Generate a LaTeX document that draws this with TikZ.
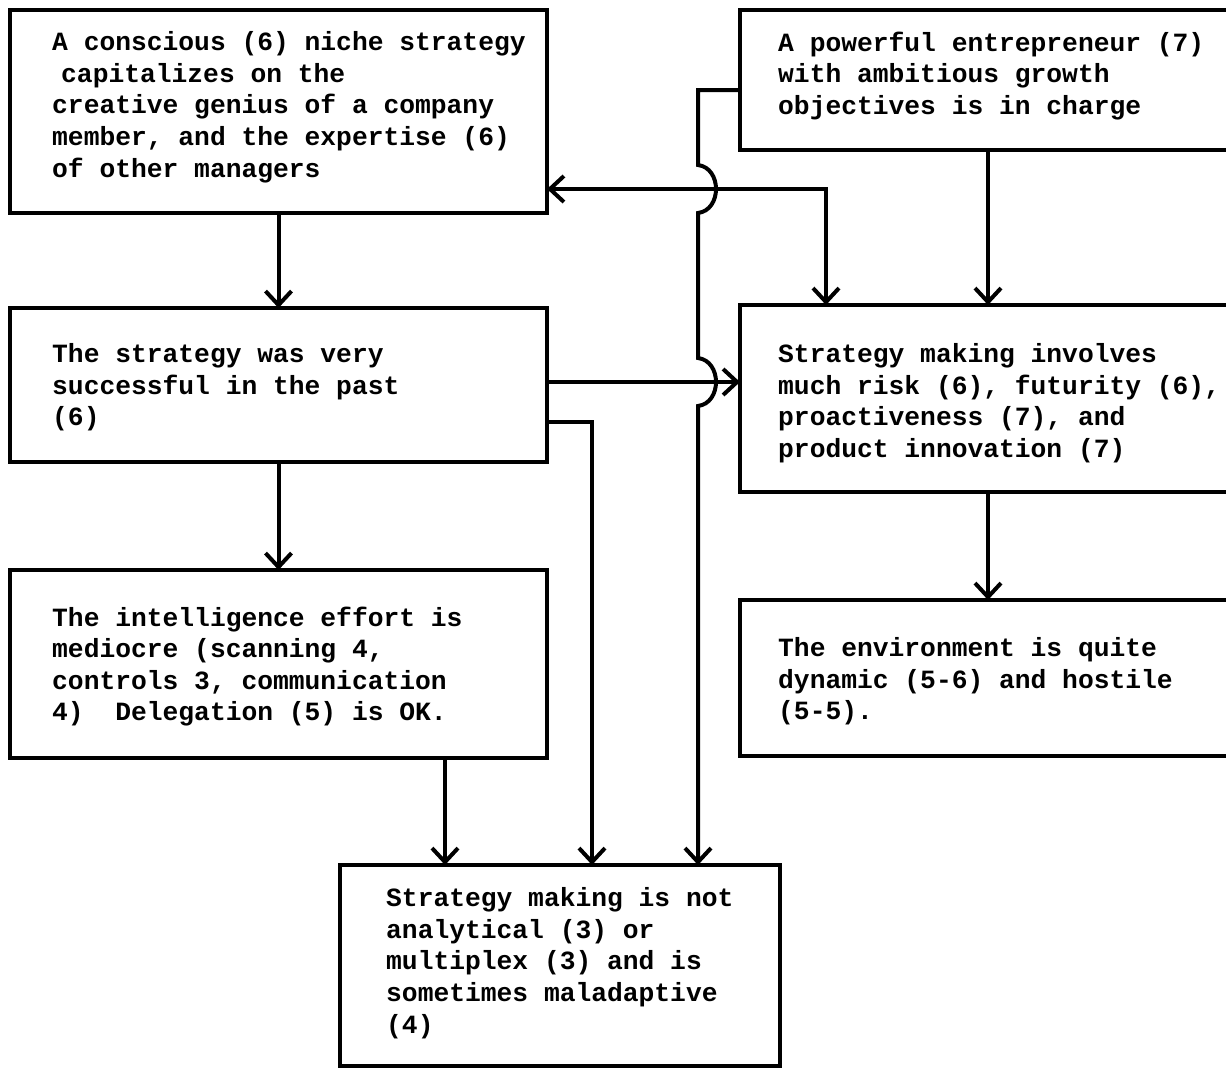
\documentclass[tikz,border=0pt]{standalone}
\usepackage{fontspec}
\setmonofont{Liberation Mono}
\usetikzlibrary{arrows.meta,calc}
\begin{document}
\begin{tikzpicture}[x=1pt,y=-1pt,
  box/.style={draw, line width=3.5pt, inner sep=0pt, outer sep=0pt, anchor=north west},
  txt/.style={font=\ttfamily\bfseries\fontsize{26.3}{31.6}\selectfont, align=left,
    inner sep=0pt, anchor=north west, execute at begin node=\strut},
  arr/.style={line width=4pt, -{Straight Barb[length=14pt,width=26pt]}},
  biarr/.style={line width=4pt, {Straight Barb[length=14pt,width=26pt]}-{Straight Barb[length=14pt,width=26pt]}}]
\useasboundingbox (0,0) rectangle (1226,1068);
\fill[white] (0,0) rectangle (1226,1068);

% boxes
\node[box, minimum width=537pt, minimum height=203pt] (A) at (10,10) {};
\node[box, minimum width=496pt, minimum height=140pt] (B) at (740,10) {};
\node[box, minimum width=537pt, minimum height=154pt] (C) at (10,308) {};
\node[box, minimum width=496pt, minimum height=187pt] (D) at (740,305) {};
\node[box, minimum width=537pt, minimum height=188pt] (E) at (10,570) {};
\node[box, minimum width=496pt, minimum height=156pt] (F) at (740,600) {};
\node[box, minimum width=440pt, minimum height=201pt] (G) at (340,865) {};

% box texts (first baseline sits 22.1pt below the node top)
\node[txt] (At) at (52,31.5) {A conscious (6) niche strategy\\\hspace*{9pt}capitalizes on the\\creative genius of a company\\member, and the expertise (6)\\of other managers};
\node[txt] (Bt) at (778,31.5) {A powerful entrepreneur (7)\\with ambitious growth\\objectives is in charge};
\node[txt] (Ct) at (52,343.5) {The strategy was very\\successful in the past\\(6)};
\node[txt] (Dt) at (778,343.5) {Strategy making involves\\much risk (6), futurity (6),\\proactiveness (7), and\\product innovation (7)};
\node[txt] (Et) at (52,606.5) {The intelligence effort is\\mediocre (scanning 4,\\controls 3, communication\\4)\ \ Delegation (5) is OK.};
\node[txt] (Ft) at (778,637.5) {The environment is quite\\dynamic (5-6) and hostile\\(5-5).};
\node[txt] (Gt) at (386,887.5) {Strategy making is not\\analytical (3) or\\multiplex (3) and is\\sometimes maladaptive\\(4)};

% bend points of the connectors
\coordinate (kAD) at (826,189);
\coordinate (kCD) at (600,382);
\coordinate (kCG) at (592,422);
\coordinate (kEG) at (445,800);
\coordinate (kBG) at (698,90);

% straight links
\draw[arr] (A.south) -- (C.north);
\draw[arr] (C.south) -- (E.north);
\draw[arr] (B.south) -- (D.north);
\draw[arr] (D.south) -- (F.north);
\draw[arr] (kEG |- E.south) -- (kEG |- G.north);
\draw[arr] (C.east |- kCD) -- (D.west |- kCD);
\draw[arr] (C.east |- kCG) -- (kCG) -- (kCG |- G.north);
\draw[biarr] (A.east |- kAD) -- (kAD) -- (kAD |- D.north);

% long link from the entrepreneur box, hopping over two crossings
\draw[arr] (B.west |- kBG) -- (kBG) -- (698,165)
  .. controls (722,168) and (722,210) .. (698,213)
  -- (698,358)
  .. controls (722,361) and (722,403) .. (698,406)
  -- (kBG |- G.north);
\end{tikzpicture}
\end{document}
